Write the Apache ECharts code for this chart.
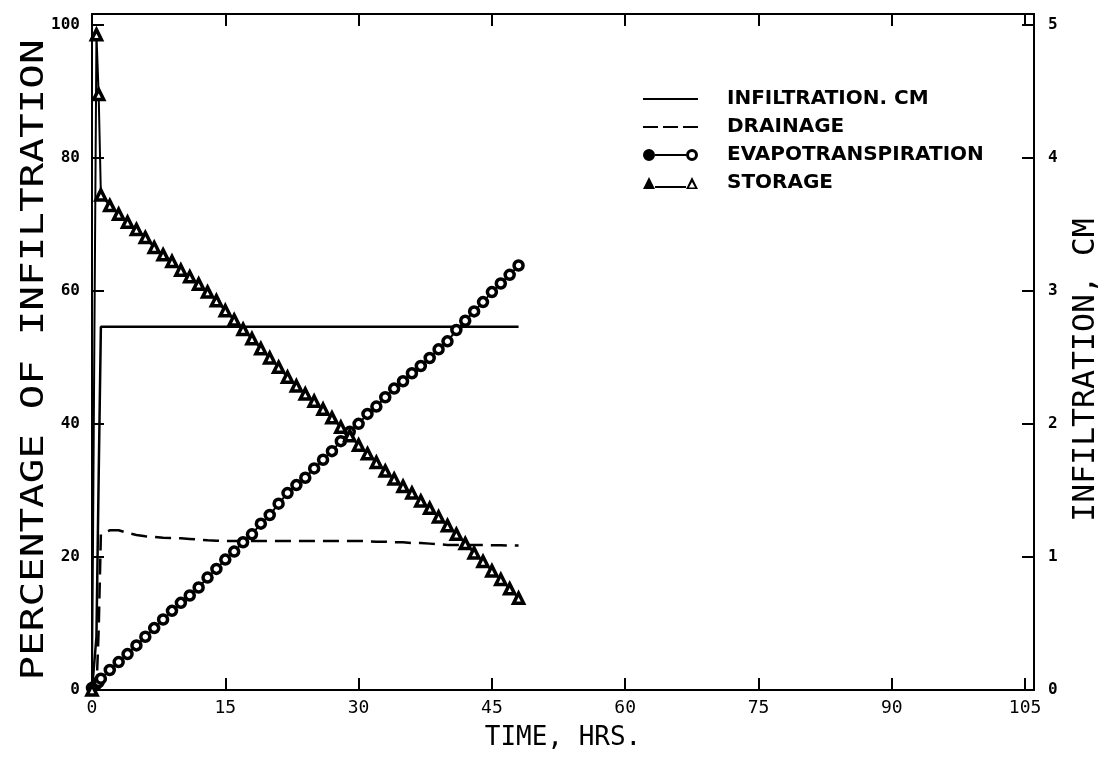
<!DOCTYPE html>
<html><head><meta charset="utf-8">
<script src="https://cdn.jsdelivr.net/npm/echarts@6/dist/echarts.min.js"></script>
<style>html,body{margin:0;padding:0;background:#fff}#c{width:1106px;height:759px}</style>
</head><body><div id="c"></div>
<script>
// ---- data ----
const timeHrs = [0, 0.5, 0.75, 1, 2, 3, 4, 5, 6, 7, 8, 9, 10, 11, 12, 13, 14, 15, 16, 17, 18, 19, 20, 21, 22, 23, 24,
  25, 26, 27, 28, 29, 30, 31, 32, 33, 34, 35, 36, 37, 38, 39, 40, 41, 42, 43, 44, 45, 46, 47, 48];
const infiltrationCm = [0, 0.4, 1.6, 2.73, 2.73, 2.73, 2.73, 2.73, 2.73, 2.73, 2.73, 2.73, 2.73, 2.73, 2.73, 2.73, 2.73,
  2.73, 2.73, 2.73, 2.73, 2.73, 2.73, 2.73, 2.73, 2.73, 2.73, 2.73, 2.73, 2.73, 2.73, 2.73, 2.73, 2.73, 2.73, 2.73, 2.73,
  2.73, 2.73, 2.73, 2.73, 2.73, 2.73, 2.73, 2.73, 2.73, 2.73, 2.73, 2.73, 2.73, 2.73];
const drainagePct = [0, 0, 9, 23.4, 24.0, 24.0, 23.6, 23.3, 23.1, 23.0, 22.9, 22.85, 22.8, 22.7, 22.6, 22.5, 22.45,
  22.4, 22.4, 22.4, 22.4, 22.4, 22.4, 22.4, 22.4, 22.4, 22.4, 22.4, 22.4, 22.4, 22.4, 22.4, 22.4, 22.35, 22.3, 22.3,
  22.2, 22.2, 22.1, 22.1, 22.0, 21.9, 21.8, 21.8, 21.8, 21.8, 21.8, 21.75, 21.75, 21.7, 21.7];
const evapotranspirationPct = [0.3, 0.9, 1.2, 1.7, 3.0, 4.2, 5.4, 6.7, 8.0, 9.3, 10.6, 11.9, 13.1, 14.2, 15.4, 16.9,
  18.2, 19.6, 20.8, 22.2, 23.4, 25.0, 26.3, 28.0, 29.6, 30.8, 31.9, 33.3, 34.6, 35.9, 37.4, 38.8, 40.0, 41.5, 42.6,
  44.0, 45.3, 46.4, 47.6, 48.7, 49.9, 51.2, 52.4, 54.1, 55.5, 56.9, 58.3, 59.8, 61.1, 62.4, 63.8];
const storagePct = [0, 98.5, 89.5, 74.4, 72.8, 71.5, 70.3, 69.2, 68.0, 66.5, 65.4, 64.4, 63.1, 62.1, 61.0, 59.8, 58.5,
  57.0, 55.6, 54.2, 52.8, 51.3, 49.9, 48.5, 47.0, 45.7, 44.5, 43.4, 42.2, 40.9, 39.5, 38.2, 36.8, 35.5, 34.2, 32.9,
  31.7, 30.6, 29.6, 28.4, 27.3, 26.0, 24.7, 23.4, 22.0, 20.6, 19.3, 17.9, 16.6, 15.2, 13.8];
const xTicks = [0, 15, 30, 45, 60, 75, 90, 105];
const leftTicks = [0, 20, 40, 60, 80, 100];
const rightTicks = [0, 1, 2, 3, 4, 5];
const seriesNames = ['INFILTRATION. CM', 'DRAINAGE', 'EVAPOTRANSPIRATION', 'STORAGE'];
const xTitle = 'TIME, HRS.';
const leftTitle = 'PERCENTAGE OF INFILTRATION';
const rightTitle = 'INFILTRATION, CM';

// ---- chart ----
const MONO = '"DejaVu Sans Mono", "Liberation Mono", monospace';
const pairs = ys => timeHrs.map((t, i) => [t, ys[i]]);
const lineAx = { onZero: false, lineStyle: { color: '#000', width: 2 } };
const tickIn = vals => ({ inside: true, length: 12, customValues: vals, lineStyle: { color: '#000', width: 2 } });
const fmt = vals => (v => vals.indexOf(v) >= 0 ? String(v) : '');

const icons = {
  line: 'path://M0,5L55,5L55,7L0,7Z',
  dash: 'path://M0,5L15,5L15,7L0,7Z M20,5L35,5L35,7L20,7Z M40,5L55,5L55,7L40,7Z',
  circ: 'path://M0,6A6,6,0,1,1,12,6A6,6,0,1,1,0,6Z M12,5L43,5L43,7L12,7Z M43,6A6,6,0,1,1,55,6A6,6,0,1,1,43,6Z M46,6A3,3,0,1,0,52,6A3,3,0,1,0,46,6Z',
  tri: 'path://M0,12L6,0L12,12Z M12,9L43,9L43,11L12,11Z M43,12L49,0L55,12Z M46,10.5L52,10.5L49,5Z'
};
const legendIconStyle = { color: '#000', borderWidth: 0 };

const option = {
  animation: false,
  backgroundColor: '#fff',
  grid: { left: 92, right: 72, top: 14, bottom: 69 },
  legend: {
    orient: 'vertical', left: 638, top: 84, itemWidth: 55, itemHeight: 12, itemGap: 8,
    selectedMode: false,
    textStyle: { fontFamily: '"DejaVu Sans", sans-serif', fontWeight: 'bold', fontSize: 20, color: '#000', padding: [0, 0, 0, 24] },
    data: [
      { name: seriesNames[0], icon: icons.line, itemStyle: legendIconStyle },
      { name: seriesNames[1], icon: icons.dash, itemStyle: legendIconStyle },
      { name: seriesNames[2], icon: icons.circ, itemStyle: legendIconStyle },
      { name: seriesNames[3], icon: icons.tri, itemStyle: legendIconStyle }
    ]
  },
  xAxis: [
    { type: 'value', position: 'bottom', min: 0, max: 106, interval: 15,
      axisLine: lineAx, axisTick: tickIn(xTicks), splitLine: { show: false },
      axisLabel: { customValues: xTicks, formatter: fmt(xTicks), color: '#000', fontFamily: MONO, fontSize: 18, margin: 9 },
      name: xTitle, nameLocation: 'middle', nameGap: 35,
      nameTextStyle: { fontFamily: MONO, fontSize: 26, color: '#000' } },
    { type: 'value', position: 'top', min: 0, max: 106, interval: 15,
      axisLine: lineAx, axisTick: tickIn(xTicks), splitLine: { show: false }, axisLabel: { show: false } }
  ],
  yAxis: [
    { type: 'value', position: 'left', min: 0, max: 101.6, interval: 20,
      axisLine: lineAx, axisTick: tickIn(leftTicks), splitLine: { show: false },
      axisLabel: { customValues: leftTicks, formatter: fmt(leftTicks), color: '#000', fontFamily: MONO, fontWeight: 'bold', fontSize: 16, margin: 12 } },
    { type: 'value', position: 'right', min: 0, max: 5.08, interval: 1,
      axisLine: lineAx, axisTick: tickIn(rightTicks), splitLine: { show: false },
      axisLabel: { customValues: rightTicks, formatter: fmt(rightTicks), color: '#000', fontFamily: MONO, fontWeight: 'bold', fontSize: 16, margin: 14 } }
  ],
  graphic: [
    { type: 'text', x: 35, y: 360, rotation: Math.PI / 2, scaleX: 1.28,
      style: { text: leftTitle, font: '32px "DejaVu Sans Mono"', fill: '#000', align: 'center', verticalAlign: 'middle', textAlign: 'center', textVerticalAlign: 'middle' } },
    { type: 'text', x: 1086, y: 370, rotation: Math.PI / 2, scaleX: 1.05,
      style: { text: rightTitle, font: '30px "DejaVu Sans Mono"', fill: '#000', align: 'center', verticalAlign: 'middle', textAlign: 'center', textVerticalAlign: 'middle' } }
  ],
  series: [
    { name: seriesNames[0], type: 'line', xAxisIndex: 0, yAxisIndex: 1, data: pairs(infiltrationCm),
      symbol: 'none', lineStyle: { color: '#000', width: 2.5 }, itemStyle: { color: '#000' }, emphasis: { disabled: true }, z: 3 },
    { name: seriesNames[1], type: 'line', xAxisIndex: 0, yAxisIndex: 0, data: pairs(drainagePct),
      symbol: 'none', lineStyle: { color: '#000', width: 2.5, type: [16, 8] }, itemStyle: { color: '#000' }, emphasis: { disabled: true }, z: 3 },
    { name: seriesNames[2], type: 'line', xAxisIndex: 0, yAxisIndex: 0, data: pairs(evapotranspirationPct),
      symbol: 'circle', symbolSize: 9, showAllSymbol: true,
      lineStyle: { color: '#000', width: 2 }, itemStyle: { color: '#fff', borderColor: '#000', borderWidth: 3.5 }, emphasis: { disabled: true }, z: 4 },
    { name: seriesNames[3], type: 'line', xAxisIndex: 0, yAxisIndex: 0, data: pairs(storagePct),
      symbol: 'triangle', symbolSize: 10, showAllSymbol: true,
      lineStyle: { color: '#000', width: 2 }, itemStyle: { color: '#fff', borderColor: '#000', borderWidth: 3.5 }, emphasis: { disabled: true }, z: 4 }
  ]
};
const chart = echarts.init(document.getElementById('c'), null, { renderer: 'canvas' });
chart.setOption(option);
</script>
</body></html>
